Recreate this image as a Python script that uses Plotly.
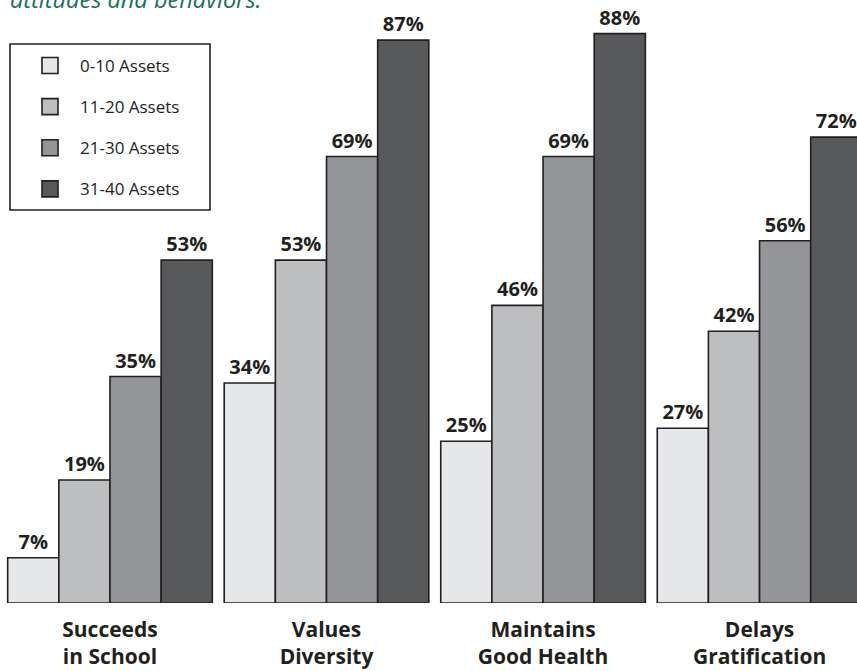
import plotly.graph_objects as go

categories = ["Succeeds<br>in School", "Values<br>Diversity", "Maintains<br>Good Health", "Delays<br>Gratification"]
series_names = ["0-10 Assets", "11-20 Assets", "21-30 Assets", "31-40 Assets"]
values = {
    "0-10 Assets": [7, 34, 25, 27],
    "11-20 Assets": [19, 53, 46, 42],
    "21-30 Assets": [35, 69, 69, 56],
    "31-40 Assets": [53, 87, 88, 72],
}
colors = ["#e6e7e8", "#bcbec0", "#939598", "#58595b"]
subtitle = "attitudes and behaviors."

W, H = 857, 671
base_px = 603
outline = "#231f20"
fam = "Open Sans, DejaVu Sans, sans-serif"

fig = go.Figure()
for i, name in enumerate(series_names):
    fig.add_trace(go.Bar(
        x=categories, y=values[name], name=name,
        marker=dict(color=colors[i], line=dict(color=outline, width=1.6)),
        texttemplate="%{y}%", textposition="outside",
        textfont=dict(family=fam, size=20, color=outline, weight="bold"),
        cliponaxis=False, showlegend=False,
    ))
for i, name in enumerate(series_names):
    fig.add_trace(go.Scatter(
        x=[None], y=[None], mode="markers", name=name,
        legendgroup="g%d" % i,
        marker=dict(symbol="square", size=16, color=colors[i],
                    line=dict(color=outline, width=1.6)),
    ))

def py(p):
    return (base_px - p) / base_px

fig.add_shape(type="rect", xref="paper", yref="paper",
              x0=10 / W, x1=210 / W, y0=py(210), y1=py(44),
              line=dict(color=outline, width=1.6), fillcolor="rgba(0,0,0,0)")

fig.add_annotation(text="<i>" + subtitle + "</i>", xref="paper", yref="paper",
                   x=8 / W, y=py(17), xanchor="left", yanchor="bottom",
                   showarrow=False,
                   font=dict(family=fam, size=23.5, color="#1a6f5b"))

fig.update_layout(
    width=W, height=H,
    margin=dict(l=0, r=0, t=0, b=H - base_px),
    paper_bgcolor="white", plot_bgcolor="white",
    barmode="group", bargap=0.055, bargroupgap=0,
    xaxis=dict(range=[-0.508, 3.450], showgrid=False, zeroline=False,
               showline=False, ticks="", ticklabelstandoff=12,
               tickfont=dict(family=fam, size=21, color=outline, weight="bold")),
    yaxis=dict(range=[0, base_px / 6.47], visible=False),
    legend=dict(x=20 / W, y=py(48), xanchor="left", yanchor="top",
                bgcolor="rgba(0,0,0,0)", borderwidth=0,
                itemwidth=50, tracegroupgap=16, traceorder="grouped",
                font=dict(family=fam, size=17, color=outline)),
    showlegend=True,
)

fig.write_html("out.html")
